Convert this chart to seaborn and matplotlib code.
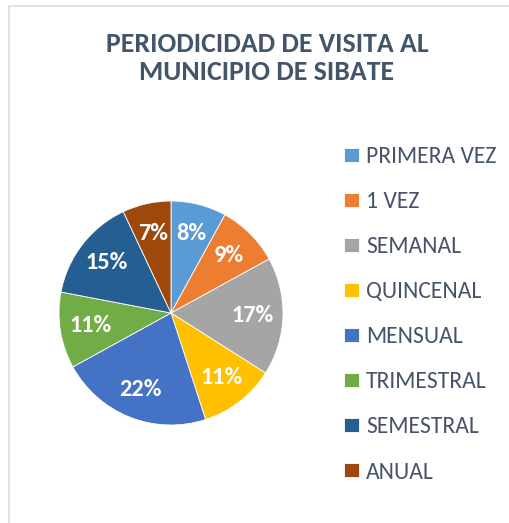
import matplotlib
matplotlib.use("Agg")
import matplotlib.pyplot as plt
import seaborn as sns
from matplotlib.patches import Rectangle

categories = ["PRIMERA VEZ", "1 VEZ", "SEMANAL", "QUINCENAL", "MENSUAL",
              "TRIMESTRAL", "SEMESTRAL", "ANUAL"]
values = [8, 9, 17, 11, 22, 11, 15, 7]
colors = ["#5B9BD5", "#ED7D31", "#A5A5A5", "#FFC000", "#4472C4",
          "#70AD47", "#255E91", "#9E480E"]
title = "PERIODICIDAD DE VISITA AL\nMUNICIPIO DE SIBATE"

sns.set_theme(style="white")
plt.rcParams["font.family"] = ["Carlito", "Lato", "DejaVu Sans"]
palette = sns.color_palette(colors)

W, H = 510, 523
fig = plt.figure(figsize=(W / 100, H / 100), dpi=100)
fig.patch.set_facecolor("white")

# chart frame (light border on left/top)
fig.add_artist(Rectangle((9 / W, -0.1), 1.2, 1.1 - 6 / H, transform=fig.transFigure,
                         fill=False, edgecolor="#D9DEE6", linewidth=1.2))

cx, cy, r = 171, 313, 112
ax = fig.add_axes([(cx - r) / W, (H - cy - r) / H, 2 * r / W, 2 * r / H])
wedges, texts, autotexts = ax.pie(
    values, colors=palette, startangle=90, counterclock=False,
    autopct=lambda p: f"{p:.0f}%", pctdistance=0.73,
    wedgeprops=dict(edgecolor="white", linewidth=0.6),
    textprops=dict(color="white", fontsize=17.5, fontweight="bold"))
ax.set_xlim(-1, 1)
ax.set_ylim(-1, 1)
ax.set_aspect("equal")
ax.axis("off")

fig.text(267 / W, 1 - 58 / H, title, ha="center", va="center",
         fontsize=20, fontweight="bold", color="#44546A", linespacing=1.25)

fig.legend(wedges, categories, loc="upper left",
           bbox_to_anchor=(344 / W, 1 - 146 / H), frameon=False,
           fontsize=17, labelcolor="#44546A", handlelength=0.63,
           handleheight=0.55, handletextpad=0.3, labelspacing=1.02,
           borderpad=0, borderaxespad=0)

fig.savefig("out.png", dpi=100)
